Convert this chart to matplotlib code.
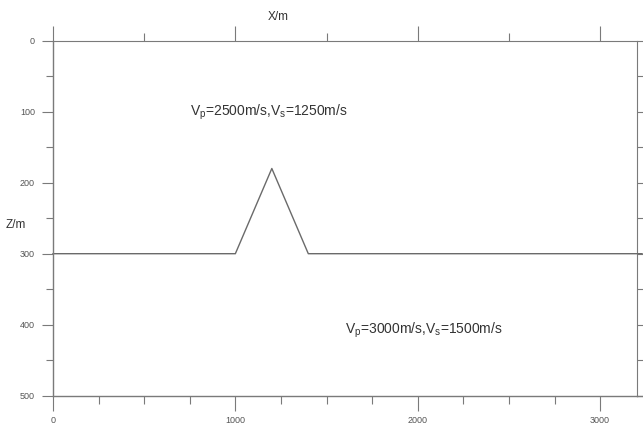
import matplotlib
matplotlib.use("Agg")
import matplotlib.pyplot as plt
from matplotlib import font_manager
from matplotlib.ticker import MultipleLocator, NullFormatter

# interface between the two layers (x in m, depth z in m)
interface_x = [0, 1000, 1200, 1400, 3230]
interface_z = [300, 300, 180, 300, 300]

upper_label = r"V$_\mathrm{p}$=2500m/s,V$_\mathrm{s}$=1250m/s"
lower_label = r"V$_\mathrm{p}$=3000m/s,V$_\mathrm{s}$=1500m/s"
upper_pos = (750, 105)
lower_pos = (1600, 412)

x_max = 3200
z_max = 500

names = {f.name for f in font_manager.fontManager.ttflist}
font = "Liberation Sans Narrow" if "Liberation Sans Narrow" in names else "Liberation Sans"
plt.rcParams["font.family"] = [font, "DejaVu Sans"]
plt.rcParams["mathtext.fontset"] = "custom"
plt.rcParams["mathtext.rm"] = font
plt.rcParams["mathtext.it"] = font

axis_col = "#7a7a7a"
text_col = "#333333"

fig = plt.figure(figsize=(6.43, 4.26), dpi=100)
ax = fig.add_axes([0.0824, 0.0711, 0.9076, 0.8334])

ax.plot(interface_x, interface_z, color="#6a6a6a", lw=1.0, clip_on=False)

ax.set_xlim(0, x_max)
ax.set_ylim(z_max, 0)

for s in ["top", "right"]:
    ax.spines[s].set_visible(False)
for s in ["left", "bottom"]:
    ax.spines[s].set_color(axis_col)
    ax.spines[s].set_linewidth(1.0)

# bottom axis line runs a bit past the frame
ax.plot([1, 1.012], [0, 0], transform=ax.transAxes, color=axis_col, lw=1.0, clip_on=False)

ax.xaxis.set_major_locator(MultipleLocator(1000))
ax.xaxis.set_minor_locator(MultipleLocator(250))
ax.yaxis.set_major_locator(MultipleLocator(100))
ax.yaxis.set_minor_locator(MultipleLocator(50))
ax.tick_params(axis="x", which="major", length=11, width=0.8, color=axis_col,
               labelsize=6.5, labelcolor="#555555", pad=3.5)
ax.tick_params(axis="x", which="minor", length=6, width=0.8, color=axis_col)
ax.tick_params(axis="y", which="major", length=8, width=0.8, color=axis_col,
               labelsize=6.5, labelcolor="#555555", pad=5)
ax.tick_params(axis="y", which="minor", length=5, width=0.8, color=axis_col)

top = ax.secondary_xaxis("top")
top.xaxis.set_major_locator(MultipleLocator(1000))
top.xaxis.set_minor_locator(MultipleLocator(500))
top.xaxis.set_major_formatter(NullFormatter())
top.tick_params(which="major", length=11, width=0.8, color=axis_col)
top.tick_params(which="minor", length=6, width=0.8, color=axis_col)
top.spines["top"].set_color(axis_col)

right = ax.secondary_yaxis("right")
right.yaxis.set_major_locator(MultipleLocator(50))
right.yaxis.set_major_formatter(NullFormatter())
right.tick_params(which="major", length=5, width=0.8, color=axis_col)
right.spines["right"].set_color(axis_col)

ax.text(*upper_pos, upper_label, fontsize=10, color=text_col, ha="left", va="baseline")
ax.text(*lower_pos, lower_label, fontsize=10, color=text_col, ha="left", va="baseline")

fig.text(278 / 643, 1 - 17 / 426, "X/m", fontsize=8.5, color=text_col, ha="center", va="center")
fig.text(16 / 643, 1 - 225 / 426, "Z/m", fontsize=8.5, color=text_col, ha="center", va="center")

fig.savefig("out.png", dpi=100)
